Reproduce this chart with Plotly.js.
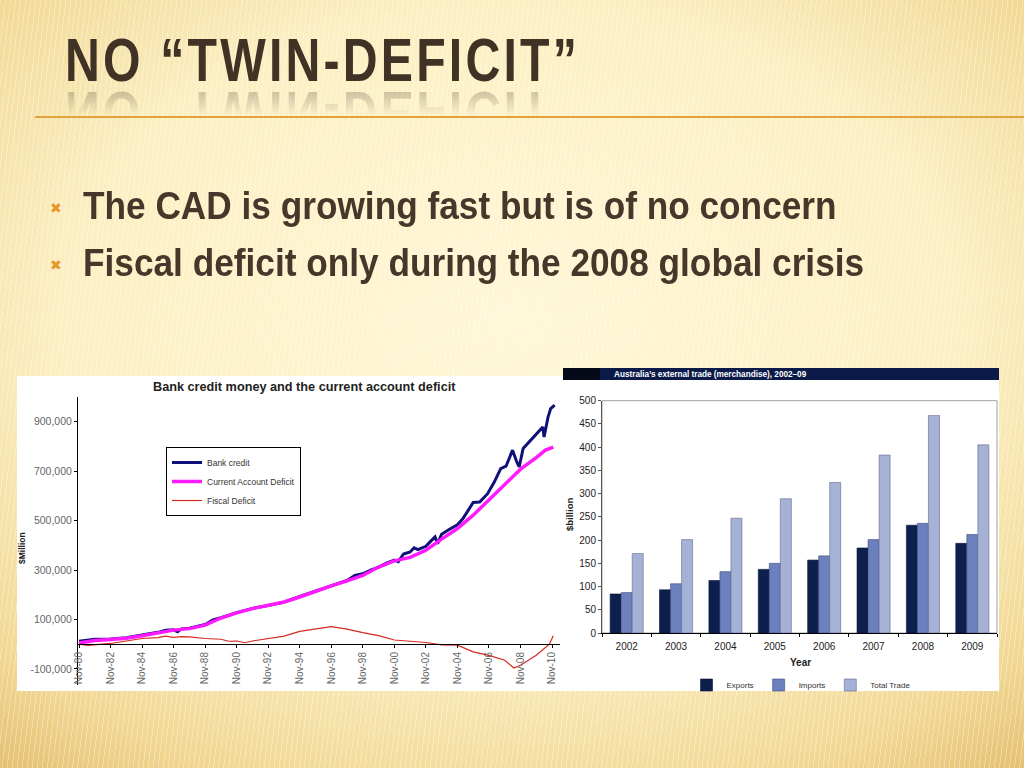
<!DOCTYPE html>
<html><head><meta charset="utf-8">
<script src="https://cdn.plot.ly/plotly-3.0.1.min.js"></script>
<style>
html,body{margin:0;padding:0;width:1024px;height:768px;overflow:hidden;}
body{position:relative;background:
 repeating-linear-gradient(97deg, rgba(255,255,255,0.32) 0px, rgba(255,255,255,0.32) 1px, rgba(255,255,255,0) 1px, rgba(255,255,255,0) 5px),
 radial-gradient(ellipse 80% 75% at 50% 42%, #fff7d8 0%, #fcefc2 55%, #f1d793 85%, #e4c070 100%);}
#chart{position:absolute;left:0;top:0;width:1024px;height:768px;}
.txt{position:absolute;white-space:nowrap;font-family:'Liberation Sans',Arial,sans-serif;color:#46372a;transform-origin:0 0;pointer-events:none;z-index:5;}
#title{left:65px;font-size:61px;line-height:61px;top:30px;font-weight:bold;letter-spacing:4px;color:#413226;
 -webkit-box-reflect: below -9px linear-gradient(to bottom, rgba(0,0,0,0) 45%, rgba(0,0,0,0.35) 100%);}
.bul{font-size:39px;line-height:39px;font-weight:bold;left:83px;}
.mark{position:absolute;font-family:'DejaVu Sans',sans-serif;font-weight:bold;font-size:14px;line-height:14px;color:#e8952a;z-index:5;}
</style></head>
<body>
<div id="chart"></div>
<div id="title" class="txt"></div>
<div class="mark" style="left:50px;top:201px;">&#x2716;</div>
<div id="b1" class="txt bul" style="top:186px;"></div>
<div class="mark" style="left:50px;top:258px;">&#x2716;</div>
<div id="b2" class="txt bul" style="top:243px;"></div>
<script>
// ---- Left chart: Bank credit money and the current account deficit ($Million)
const bankDates = ['1980-11','1981-11','1982-11','1983-11','1984-11','1985-11','1986-05','1986-11','1987-02','1987-05','1987-11','1988-11','1989-05','1989-11','1990-11','1991-11','1992-11','1993-11','1994-11','1995-06','1996-02','1996-11','1997-11','1998-05','1998-11','1999-05','1999-11','2000-05','2000-11','2001-02','2001-06','2001-11','2002-02','2002-05','2002-11','2003-03','2003-06','2003-08','2003-11','2004-05','2004-11','2005-03','2005-07','2005-11','2006-04','2006-10','2007-03','2007-08','2007-12','2008-05','2008-08','2008-10','2009-01','2009-07','2009-12','2010-04','2010-05','2010-08','2010-10','2011-01'];
const bankCredit = [12000,20000,21000,26000,37000,48000,57000,58000,50000,62000,65000,80000,98000,107000,128000,145000,156000,170000,193000,206000,219000,238000,258000,278000,285000,300000,312000,328000,340000,334000,365000,373000,390000,383000,396000,418000,434000,407000,445000,465000,483000,506000,540000,573000,575000,609000,655000,710000,720000,785000,740000,717000,792000,828000,856000,879000,838000,919000,953000,967000];

const cadDates = ['1980-11','1981-11','1982-11','1983-11','1984-11','1985-11','1986-11','1987-11','1988-11','1989-11','1990-11','1991-11','1992-11','1993-11','1994-11','1995-06','1996-02','1996-11','1997-11','1998-11','1999-11','2000-11','2001-11','2002-11','2003-11','2004-11','2005-11','2006-11','2007-11','2008-11','2009-11','2010-06','2010-12'];
const currentAccountDeficit = [5000,15000,19000,24000,34000,46000,57000,63000,77000,106000,127000,144000,158000,171000,191000,205000,218000,236000,256000,278000,312000,337000,351000,380000,425000,468000,522000,585000,648000,708000,755000,785000,797000];

const fiscalDates = ['1980-11','1981-06','1982-11','1983-11','1984-11','1985-11','1986-05','1986-11','1987-05','1987-11','1988-11','1989-11','1990-05','1990-11','1991-05','1991-11','1992-11','1993-11','1994-11','1995-06','1996-02','1996-11','1997-05','1997-11','1998-11','1999-11','2000-11','2001-11','2002-11','2003-11','2004-11','2005-11','2006-11','2007-11','2008-06','2008-11','2009-11','2010-09','2010-12'];
const fiscalDeficit = [0,-5000,3000,13000,23000,27000,33000,28000,31000,30000,23000,20000,12000,13000,6000,13000,23000,33000,52000,58000,66000,71000,66000,61000,47000,35000,17000,11000,7000,-3000,-4000,-31000,-45000,-65000,-96000,-85000,-45000,0,34000];

const leftYTicks = [-100000,100000,300000,500000,700000,900000];
const leftYTickText = ['-100,000','100,000','300,000','500,000','700,000','900,000'];

// ---- Right chart: Australia's external trade (merchandise), 2002-09 ($billion)
const tradeYears = ['2002','2003','2004','2005','2006','2007','2008','2009'];
const exportsBn = [84,93,113,137,157,183,232,193];
const importsBn = [87,106,132,150,166,201,236,212];
const totalTradeBn = [171,201,247,289,324,383,468,405];
const rightYTicks = [0,50,100,150,200,250,300,350,400,450,500];

// ---- Slide text
const slideTitle = 'NO \u201CTWIN-DEFICIT\u201D';
const bullets = ['The CAD is growing fast but is of no concern','Fiscal deficit only during the 2008 global crisis'];

// slide text as real HTML text, horizontally condensed to the slide's width
const titleEl = document.getElementById('title');
const b1 = document.getElementById('b1'), b2 = document.getElementById('b2');
titleEl.textContent = slideTitle;
b1.textContent = bullets[0]; b2.textContent = bullets[1];
function condense(){
  const ts = 515 / titleEl.getBoundingClientRect().width;
  titleEl.style.transform = 'scaleX(' + ts + ')';
  const s1 = 745 / b1.getBoundingClientRect().width;
  const s2 = 790 / b2.getBoundingClientRect().width;
  const bs = (s1 + s2) / 2;
  b1.style.transform = 'scaleX(' + bs + ')';
  b2.style.transform = 'scaleX(' + bs + ')';
}
condense();

const W=1024, H=768;
const px = v => v/W;
const py = v => 1 - v/H;
const chartFont = 'Liberation Sans, Arial, sans-serif';

const traces = [
 {type:'scatter', mode:'lines', name:'Bank credit', x:bankDates, y:bankCredit, xaxis:'x', yaxis:'y', line:{color:'#10107a', width:3}, legend:'legend'},
 {type:'scatter', mode:'lines', name:'Current Account Deficit', x:cadDates, y:currentAccountDeficit, xaxis:'x', yaxis:'y', line:{color:'#ff1aff', width:3.5}, legend:'legend'},
 {type:'scatter', mode:'lines', name:'Fiscal Deficit', x:fiscalDates, y:fiscalDeficit, xaxis:'x', yaxis:'y', line:{color:'#d42a1e', width:1.2}, legend:'legend'},
 {type:'bar', name:'Exports', x:tradeYears, y:exportsBn, xaxis:'x2', yaxis:'y2', marker:{color:'#0c1f4d', line:{color:'#0a1535', width:0.6}}, legend:'legend2'},
 {type:'bar', name:'Imports', x:tradeYears, y:importsBn, xaxis:'x2', yaxis:'y2', marker:{color:'#6c80bd', line:{color:'#3c4c80', width:0.6}}, legend:'legend2'},
 {type:'bar', name:'Total Trade', x:tradeYears, y:totalTradeBn, xaxis:'x2', yaxis:'y2', marker:{color:'#a6b1d6', line:{color:'#5f6a90', width:0.6}}, legend:'legend2'}
];

const annotations = [
 {text:'<b>Bank credit money and the current account deficit</b>', xref:'paper', yref:'paper', x:px(304), y:py(387), xanchor:'center', yanchor:'middle', showarrow:false, font:{family:chartFont, size:12.7, color:'#222'}},
 {text:'<b>$Million</b>', xref:'paper', yref:'paper', x:px(22), y:py(548), xanchor:'center', yanchor:'middle', textangle:-90, showarrow:false, font:{family:chartFont, size:8.5, color:'#222'}},
 {text:'<b>Australia\u2019s external trade (merchandise), 2002\u201309</b>', xref:'paper', yref:'paper', x:px(612), y:py(374), xanchor:'left', yanchor:'middle', showarrow:false, font:{family:chartFont, size:8.2, color:'#ffffff'}},
 {text:'<b>$billion</b>', xref:'paper', yref:'paper', x:px(569), y:py(515), xanchor:'center', yanchor:'middle', textangle:-90, showarrow:false, font:{family:chartFont, size:9.5, color:'#222'}},
 {text:'<b>Year</b>', xref:'paper', yref:'paper', x:px(800), y:py(662), xanchor:'center', yanchor:'middle', showarrow:false, font:{family:chartFont, size:10, color:'#222'}}
];

const shapes = [
 {type:'line', xref:'paper', yref:'paper', x0:px(35), x1:px(1024), y0:py(117), y1:py(117), line:{color:'#e2a23c', width:2}, layer:'below'},
 {type:'rect', xref:'paper', yref:'paper', x0:px(17), x1:px(563), y0:py(691), y1:py(376), fillcolor:'#ffffff', line:{width:0}, layer:'below'},
 {type:'rect', xref:'paper', yref:'paper', x0:px(563), x1:px(999), y0:py(691), y1:py(368), fillcolor:'#ffffff', line:{width:0}, layer:'below'},
 {type:'rect', xref:'paper', yref:'paper', x0:px(563), x1:px(999), y0:py(380), y1:py(368), fillcolor:'#0b1a48', line:{width:0}, layer:'below'},
 {type:'rect', xref:'paper', yref:'paper', x0:px(563), x1:px(600), y0:py(380), y1:py(368), fillcolor:'#050a18', line:{width:0}, layer:'below'},
 {type:'rect', xref:'paper', yref:'paper', x0:px(602), x1:px(997), y0:py(633), y1:py(400.7), fillcolor:'rgba(0,0,0,0)', line:{color:'#a0a0a0', width:1}, layer:'below'}
];

const layout = {
 width:W, height:H, margin:{l:0,r:0,t:0,b:0},
 paper_bgcolor:'rgba(0,0,0,0)', plot_bgcolor:'rgba(0,0,0,0)',
 font:{family:chartFont, color:'#333'},
 showlegend:true,
 xaxis:{domain:[px(77),px(560)], anchor:'free', position:py(644), type:'date', range:['1980-09-15','2011-05-05'], tick0:'1980-11-01', dtick:'M24', tickformat:'%b-%y', tickangle:-90, ticks:'outside', ticklen:3, tickcolor:'#000', showline:true, linecolor:'#000', linewidth:1, showgrid:false, zeroline:false, tickfont:{size:10, color:'#666'}},
 yaxis:{domain:[py(685),py(397)], anchor:'free', position:px(77), range:[-165000,1000000], tickmode:'array', tickvals:leftYTicks, ticktext:leftYTickText, ticks:'outside', ticklen:3, tickcolor:'#000', showline:true, linecolor:'#000', linewidth:1, showgrid:false, zeroline:false, tickfont:{size:10.5, color:'#666'}},
 xaxis2:{domain:[px(602),px(997)], anchor:'y2', type:'category', tickson:'boundaries', ticks:'outside', ticklen:3, tickcolor:'#000', showline:true, linecolor:'#000', linewidth:1, showgrid:false, tickfont:{size:10, color:'#222'}, ticklabelstandoff:4},
 yaxis2:{domain:[py(633),py(400.7)], anchor:'x2', range:[0,500], tickmode:'array', tickvals:rightYTicks, ticks:'outside', ticklen:3, tickcolor:'#555', showline:true, linecolor:'#555', linewidth:1, showgrid:false, zeroline:false, tickfont:{size:10, color:'#222'}},
 barmode:'group', bargap:0.33, bargroupgap:0,
 legend:{x:px(166), y:py(447), xanchor:'left', yanchor:'top', bgcolor:'#ffffff', bordercolor:'#000', borderwidth:1, font:{size:8.5, color:'#333'}, itemwidth:30, tracegroupgap:0},
 legend2:{orientation:'h', x:px(801), xanchor:'center', y:py(685), yanchor:'middle', bgcolor:'rgba(0,0,0,0)', font:{size:8, color:'#333'}, itemwidth:30},
 annotations:annotations,
 shapes:shapes
};

Plotly.newPlot('chart', traces, layout, {displayModeBar:false, staticPlot:true});
</script>
</body></html>
